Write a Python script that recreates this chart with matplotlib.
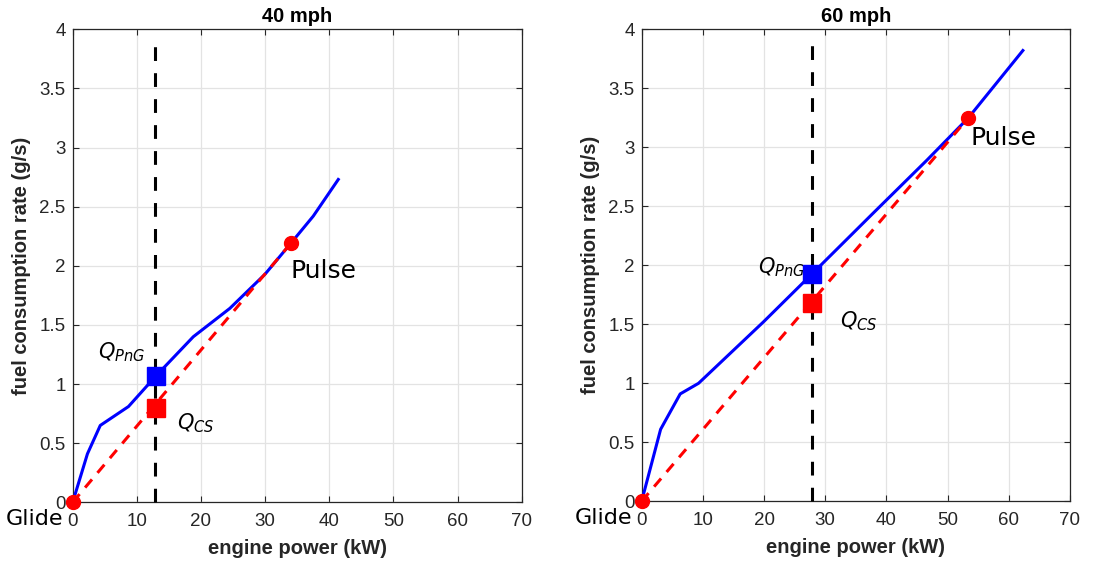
import matplotlib
matplotlib.use("Agg")
import matplotlib.pyplot as plt
from matplotlib.ticker import FuncFormatter

plt.rcParams["font.family"] = ["Liberation Sans", "DejaVu Sans"]
plt.rcParams["mathtext.fontset"] = "dejavusans"

# 40 mph: engine fuel curve, operating points
p40 = [0, 2.3, 4.3, 8.7, 13.0, 18.8, 24.5, 30.0, 34.0, 37.5, 41.4]
q40 = [0, 0.41, 0.65, 0.81, 1.07, 1.40, 1.64, 1.93, 2.19, 2.42, 2.73]
pulse40 = (34.0, 2.19)
png40 = (13.0, 1.07)
cs40 = (13.0, 0.80)
demand40 = 12.8

# 60 mph
p60 = [0, 3.1, 6.3, 9.3, 19.9, 27.9, 37.8, 46.6, 53.4, 62.3]
q60 = [0, 0.61, 0.91, 1.00, 1.52, 1.93, 2.44, 2.89, 3.25, 3.82]
pulse60 = (53.4, 3.25)
png60 = (27.9, 1.93)
cs60 = (27.9, 1.68)
demand60 = 27.9

titles = ["40 mph", "60 mph"]
xticks = [0, 10, 20, 30, 40, 50, 60, 70]
yticks = [0, 0.5, 1, 1.5, 2, 2.5, 3, 3.5, 4]

fig = plt.figure(figsize=(11.08, 5.63), dpi=100)
ax1 = fig.add_axes([0.0656, 0.1078, 0.4053, 0.8402])
ax2 = fig.add_axes([0.5791, 0.1096, 0.3866, 0.8384])

panels = [
    (ax1, p40, q40, pulse40, png40, cs40, demand40, titles[0],
     dict(pulse=(33.9, 1.96), png=(11.3, 1.27), cs=(16.2, 0.67))),
    (ax2, p60, q60, pulse60, png60, cs60, demand60, titles[1],
     dict(pulse=(53.8, 3.08), png=(26.7, 1.98), cs=(32.4, 1.53))),
]

for ax, p, q, pulse, png, cs, demand, title, txt in panels:
    ax.set_xlim(0, 70)
    ax.set_ylim(0, 4)
    ax.set_xticks(xticks)
    ax.set_yticks(yticks)
    ax.yaxis.set_major_formatter(FuncFormatter(lambda v, pos: f"{v:g}"))
    ax.grid(True, color="#e3e3e3", linewidth=0.9)
    ax.set_axisbelow(True)
    ax.tick_params(direction="in", length=4, width=0.8, top=True, right=True,
                   labelsize=13.5, colors="#262626")
    ax.tick_params(axis="x", pad=8)
    ax.tick_params(axis="y", pad=5)
    for s in ax.spines.values():
        s.set_color("#262626")
        s.set_linewidth(0.9)

    # demand line
    ax.plot([demand, demand], [0, 3.92], color="black", linewidth=2.2,
            dashes=(4.5, 4), clip_on=False, zorder=3)
    # engine map
    ax.plot(p, q, color="blue", linewidth=2.2, zorder=4)
    # glide-pulse chord
    ax.plot([0, pulse[0]], [0, pulse[1]], color="red", linewidth=2.2,
            dashes=(3.5, 2.8), zorder=5)
    ax.plot([0, pulse[0]], [0, pulse[1]], "o", color="red", markersize=10,
            clip_on=False, zorder=7)
    ax.plot(png[0], png[1], "s", color="blue", markersize=13, zorder=6)
    ax.plot(cs[0], cs[1], "s", color="red", markersize=13, zorder=6)

    ax.text(txt["pulse"][0], txt["pulse"][1], "Pulse", fontsize=18,
            family="DejaVu Sans", ha="left", va="center")
    ax.text(txt["png"][0], txt["png"][1], "$Q_{PnG}$", fontsize=15,
            ha="right", va="center")
    ax.text(txt["cs"][0], txt["cs"][1], "$Q_{CS}$", fontsize=15,
            ha="left", va="center")
    ax.text(-1.5, -0.14, "Glide", fontsize=16, family="DejaVu Sans",
            ha="right", va="center", clip_on=False)

    ax.set_title(title, fontsize=14.5, fontweight="bold", pad=5)
    ax.set_xlabel("engine power (kW)", fontsize=14.5, fontweight="bold",
                  color="#262626", labelpad=6)
    ax.set_ylabel("fuel consumption rate (g/s)", fontsize=14.5,
                  fontweight="bold", color="#262626", labelpad=6)

fig.savefig("out.png", dpi=100)
